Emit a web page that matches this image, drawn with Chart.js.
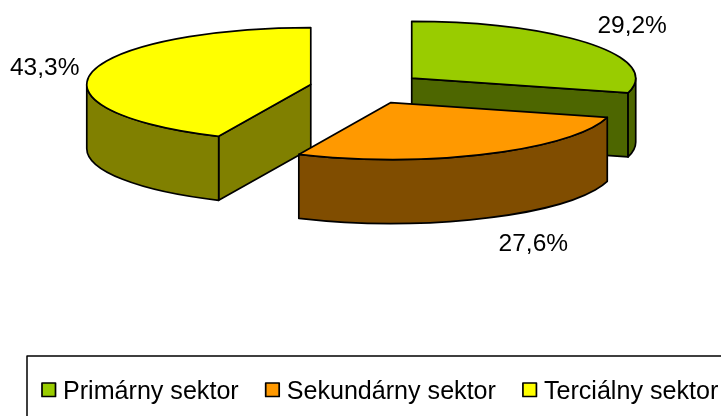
<!DOCTYPE html>
<html>
<head>
<meta charset="utf-8">
<title>Sektory</title>
<script src="https://cdn.jsdelivr.net/npm/chart.js@4"></script>
<style>
  html, body { margin: 0; background: #fff; }
  canvas { display: block; }
</style>
</head>
<body>
<canvas id="pie3d" width="721" height="416"></canvas>
<script>
// data
const categories = ['Primárny sektor', 'Sekundárny sektor', 'Terciálny sektor'];
const shares = [29.2, 27.6, 43.3];
const shareLabels = ['29,2%', '27,6%', '43,3%'];
const topColors = ['#99CC00', '#FF9900', '#FFFF00'];
const sideColors = ['#4D6600', '#804D00', '#808000'];

// fake 3D look
const pieY = 87.5;
const squash = 0.254;
const depth = 64;
const explode = 57;
const pieRadius = 224;
const sideOrder = [2, 0, 1]; // back to front
const sliceNudge = [-0.5, 2, 0]; // px down, the original is not quite regular

// label placement, in pie radii along the slice middle + a small drop in px
const labelReach = [1.24, 1.485, 1.215];
const labelDrop = [-9, 67, -2];

const FONT = '"Liberation Sans", Arial, sans-serif';

function sliceGeom(el, i) {
    const p = el.getProps(['x', 'startAngle', 'endAngle', 'outerRadius'], true);
    const mid = (p.startAngle + p.endAngle) / 2;
    return {
        a0: p.startAngle,
        a1: p.endAngle,
        mid: mid,
        r: p.outerRadius,
        x: p.x + Math.cos(mid) * explode,
        y: pieY + Math.sin(mid) * explode * squash + sliceNudge[i]
    };
}

function edgePoint(g, a, drop) {
    return [g.x + Math.cos(a) * g.r, g.y + Math.sin(a) * g.r * squash + drop];
}

function paintPath(ctx, fill) {
    if (fill) {
        ctx.fillStyle = fill;
        ctx.fill();
    }
    ctx.strokeStyle = '#000';
    ctx.lineWidth = 1.7;
    ctx.lineJoin = 'round';
    ctx.stroke();
}

function drawRadialWall(ctx, g, a, color) {
    const e = edgePoint(g, a, 0);
    ctx.beginPath();
    ctx.moveTo(g.x, g.y);
    ctx.lineTo(e[0], e[1]);
    ctx.lineTo(e[0], e[1] + depth);
    ctx.lineTo(g.x, g.y + depth);
    ctx.closePath();
    paintPath(ctx, color);
}

function drawSides(ctx, g, color) {
    // flat walls, only the ones turned to the viewer
    if (Math.cos(g.a0) < -0.001) drawRadialWall(ctx, g, g.a0, color);
    if (Math.cos(g.a1) > 0.001) drawRadialWall(ctx, g, g.a1, color);
    // round wall, front half of the ellipse only
    const from = Math.max(g.a0, 0);
    const to = Math.min(g.a1, Math.PI);
    if (to > from) {
        ctx.beginPath();
        ctx.ellipse(g.x, g.y, g.r, g.r * squash, 0, from, to);
        ctx.ellipse(g.x, g.y + depth, g.r, g.r * squash, 0, to, from, true);
        ctx.closePath();
        paintPath(ctx, color);
    }
}

const pie3dPlugin = {
    id: 'pie3d',
    beforeDatasetsDraw(chart) {
        const ctx = chart.ctx;
        const arcs = chart.getDatasetMeta(0).data;
        sideOrder.forEach(i => drawSides(ctx, sliceGeom(arcs[i], i), sideColors[i]));
        // let the library's own arcs paint the tops, flattened and pulled out
        arcs.forEach((el, i) => {
            const g = sliceGeom(el, i);
            ctx.save();
            ctx.translate(0, pieY + sliceNudge[i]);
            ctx.scale(1, squash);
            ctx.translate(Math.cos(g.mid) * explode, Math.sin(g.mid) * explode - el.y);
            el.draw(ctx);
            ctx.restore();
            // outline here, so the line keeps its width
            ctx.beginPath();
            ctx.moveTo(g.x, g.y);
            ctx.ellipse(g.x, g.y, g.r, g.r * squash, 0, g.a0, g.a1);
            ctx.closePath();
            paintPath(ctx);
        });
        return false;
    },
    afterDraw(chart) {
        const ctx = chart.ctx;
        ctx.save();
        // percent labels
        ctx.font = '24.5px ' + FONT;
        ctx.fillStyle = '#000';
        ctx.textAlign = 'center';
        ctx.textBaseline = 'middle';
        chart.getDatasetMeta(0).data.forEach((el, i) => {
            const g = sliceGeom(el, i);
            const reach = explode + g.r * labelReach[i];
            const x = el.x + Math.cos(g.mid) * reach;
            const y = pieY + Math.sin(g.mid) * reach * squash + labelDrop[i];
            ctx.fillText(shareLabels[i], x, y);
        });
        // legend, frame runs off the window on the right and at the bottom
        ctx.strokeStyle = '#000';
        ctx.lineWidth = 1.5;
        ctx.strokeRect(27, 356, 800, 100);
        ctx.font = '25.1px ' + FONT;
        ctx.textAlign = 'left';
        ctx.textBaseline = 'alphabetic';
        let x = 42;
        categories.forEach((name, i) => {
            ctx.beginPath();
            ctx.rect(x, 383, 13.5, 13.5);
            paintPath(ctx, topColors[i]);
            ctx.fillStyle = '#000';
            ctx.fillText(name, x + 21, 399);
            x += 21 + ctx.measureText(name).width + 27;
        });
        ctx.restore();
    }
};

new Chart(document.getElementById('pie3d').getContext('2d'), {
    type: 'pie',
    data: {
        labels: categories,
        datasets: [{
            data: shares,
            backgroundColor: topColors,
            borderWidth: 0,
            radius: pieRadius,
            clip: false
        }]
    },
    options: {
        responsive: false,
        animation: false,
        layout: { padding: { left: 12 } },
        plugins: {
            legend: { display: false },
            tooltip: { enabled: false }
        }
    },
    plugins: [pie3dPlugin]
});
</script>
</body>
</html>
